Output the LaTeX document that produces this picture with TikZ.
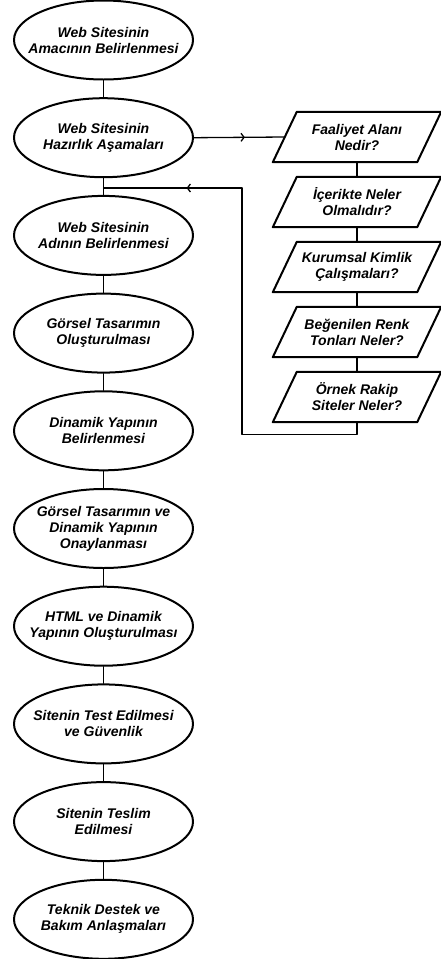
\documentclass[tikz,border=0pt]{standalone}
\usepackage{fontspec}
\setmainfont{Liberation Sans}
\usetikzlibrary{shapes.geometric,arrows.meta,decorations.markings}
\begin{document}
\begin{tikzpicture}[x=1pt, y=-1pt, font=\fontsize{14}{16}\selectfont\bfseries\itshape, line join=round, line cap=round,
	adim/.style={ellipse, draw, line width=2pt, minimum width=179pt, minimum height=79pt, inner xsep=-25pt, inner ysep=0pt, align=center},
	soru/.style={minimum width=144pt, minimum height=50pt, inner sep=0pt, align=center},
	hat/.style={line width=1.3pt},
	okorta/.style={postaction={decorate}, decoration={markings, mark=at position #1 with {\arrow{Straight Barb[length=3pt,width=8pt]}}}}]
	\useasboundingbox (0,0) rectangle (441,959);
	% ana akis
	\foreach \i/\metin in {1/{Web Sitesinin\\Amacının Belirlenmesi}, 2/{Web Sitesinin\\Hazırlık Aşamaları}, 3/{Web Sitesinin\\Adının Belirlenmesi}, 4/{Görsel Tasarımın\\Oluşturulması}, 5/{Dinamik Yapının\\Belirlenmesi}, 6/{Görsel Tasarımın ve\\Dinamik Yapının\\Onaylanması}, 7/{HTML ve Dinamik\\Yapının Oluşturulması}, 8/{Sitenin Test Edilmesi\\ve Güvenlik}, 9/{Sitenin Teslim\\Edilmesi}, 10/{Teknik Destek ve\\Bakım Anlaşmaları}}
		\node[adim] (e\i) at (103.5,{40+97.7*(\i-1)}) {\metin};
	\foreach \i in {1,...,9}{\pgfmathtruncatemacro\j{\i+1}\draw[hat](e\i.south)--(e\j.north);}
	% hazirlik sorulari
	\foreach \i/\metin in {1/{Faaliyet Alanı\\Nedir?}, 2/{İçerikte Neler\\Olmalıdır?}, 3/{Kurumsal Kimlik\\Çalışmaları?}, 4/{Beğenilen Renk\\Tonları Neler?}, 5/{Örnek Rakip\\Siteler Neler?}}{
		\node[soru] (s\i) at (357,{137+65*(\i-1)}) {\metin};
		\draw[line width=2pt]([xshift=-12pt]s\i.south west)--([xshift=12pt]s\i.north west)--([xshift=12pt]s\i.north east)--([xshift=-12pt]s\i.south east)--cycle;}
	\foreach \i in {1,...,4}{\pgfmathtruncatemacro\j{\i+1}\draw[hat](s\i.south)--(s\j.north);}
	\draw[hat,okorta=.56](e2.east)--(s1.west);
	\coordinate (don) at (103.5,188);
	\coordinate (kose) at (242,188);
	\draw[hat](s5.south)--++(0,12)-|(kose);
	\draw[hat,okorta=.4](kose)--(don);
\end{tikzpicture}
\end{document}
